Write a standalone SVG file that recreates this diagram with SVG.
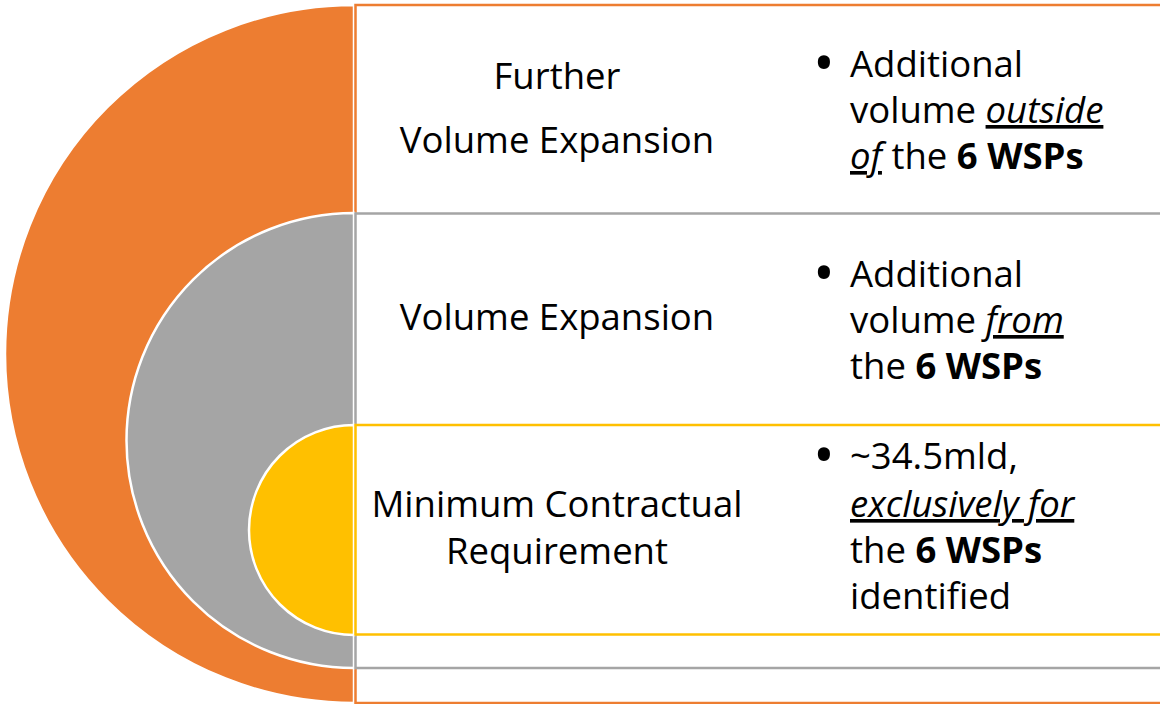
<svg xmlns="http://www.w3.org/2000/svg" width="1160" height="704" viewBox="0 0 1160 704">
<style>
.t{font-family:"Open Sans","Noto Sans","Liberation Sans",sans-serif;font-size:36.5px;fill:#000}
.c{text-anchor:middle}
.b{font-weight:bold}
.u{font-style:italic;text-decoration:underline}
.bl{font-family:"Open Sans","Noto Sans","Liberation Sans",sans-serif;font-size:58px;fill:#000}
.arc{stroke:#fff;stroke-width:2.5}
</style>
<rect width="1160" height="704" fill="#fff"/>
<g id="outer">
<path class="arc" d="M354,5 A349,349 0 0 0 354,703 Z" fill="#ED7D31"/>
<rect x="355.5" y="5" width="812" height="698" fill="#fff" stroke="#ED7D31" stroke-width="2.5"/>
<text class="t c" x="557" y="89">Further</text>
<text class="t c" x="557" y="153">Volume Expansion</text>
<text class="bl" x="813" y="84">•</text>
<text class="t" x="850" y="77">Additional</text>
<text class="t" x="850" y="123">volume <tspan class="u">outside</tspan></text>
<text class="t" x="850" y="169"><tspan class="u">of</tspan> the <tspan class="b">6 WSPs</tspan></text>
</g>
<g id="middle">
<path class="arc" d="M354,213 A227.5,227.5 0 0 0 354,668 Z" fill="#A5A5A5"/>
<rect x="355.5" y="213.5" width="812" height="454.5" fill="#fff" stroke="#A5A5A5" stroke-width="2.5"/>
<text class="t c" x="557" y="330">Volume Expansion</text>
<text class="bl" x="813" y="294">•</text>
<text class="t" x="850" y="287">Additional</text>
<text class="t" x="850" y="333">volume <tspan class="u">from</tspan></text>
<text class="t" x="850" y="379">the <tspan class="b">6 WSPs</tspan></text>
</g>
<g id="inner">
<path class="arc" d="M354,425 A105,105 0 0 0 354,635 Z" fill="#FFC000"/>
<rect x="355.5" y="425" width="812" height="209.5" fill="#fff" stroke="#FFC000" stroke-width="2.5"/>
<text class="t c" x="557" y="517">Minimum Contractual</text>
<text class="t c" x="557" y="564">Requirement</text>
<text class="bl" x="813" y="476">•</text>
<text class="t" x="850" y="469">~34.5mld,</text>
<text class="t" x="850" y="517"><tspan class="u">exclusively for</tspan></text>
<text class="t" x="850" y="563">the <tspan class="b">6 WSPs</tspan></text>
<text class="t" x="850" y="609">identified</text>
</g>
</svg>
